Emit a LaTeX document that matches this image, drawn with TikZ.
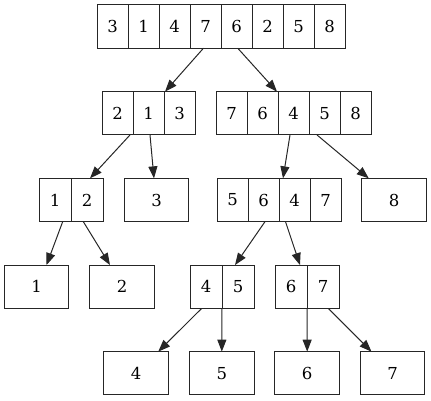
\documentclass[tikz,border=0pt]{standalone}
\usepackage{fontspec}
\setmainfont{DejaVu Serif}
\usetikzlibrary{arrows.meta}
\tikzset{
  cell/.style={draw=black!85, line width=1pt, outer sep=0pt, inner sep=0pt,
    minimum width=31pt, minimum height=43.3pt,
    font=\fontsize{16.5pt}{18pt}\selectfont},
  cellw/.style={cell, minimum width=32pt},
  leaf/.style={cell, minimum width=64.5pt},
  edge/.style={draw=black!85, line width=1pt, -{Triangle[length=12pt,width=9pt]}}
}
\begin{document}
\begin{tikzpicture}[x=1pt,y=-1pt]
\useasboundingbox (0,0) rectangle (431,400);
% row 1
\node[cell] (t1) at (112.5,26.5) {3};
\node[cell] (t2) at (143.5,26.5) {1};
\node[cell] (t3) at (174.5,26.5) {4};
\node[cell] (t4) at (205.5,26.5) {7};
\node[cell] (t5) at (236.5,26.5) {6};
\node[cell] (t6) at (267.5,26.5) {2};
\node[cell] (t7) at (298.5,26.5) {5};
\node[cell] (t8) at (329.5,26.5) {8};
% row 2
\node[cell] (a1) at (117.5,113.3) {2};
\node[cell] (a2) at (148.5,113.3) {1};
\node[cell] (a3) at (179.5,113.3) {3};
\node[cell] (b1) at (231.5,113.3) {7};
\node[cell] (b2) at (262.5,113.3) {6};
\node[cell] (b3) at (293.5,113.3) {4};
\node[cell] (b4) at (324.5,113.3) {5};
\node[cell] (b5) at (355.5,113.3) {8};
% row 3
\node[cellw] (c1) at (55,200) {1};
\node[cellw] (c2) at (87,200) {2};
\node[leaf] (d) at (156.5,200) {3};
\node[cell] (e1) at (232.5,200) {5};
\node[cell] (e2) at (263.5,200) {6};
\node[cell] (e3) at (294.5,200) {4};
\node[cell] (e4) at (325.5,200) {7};
\node[leaf] (f) at (394,200) {8};
% row 4
\node[leaf] (g) at (36.5,286.7) {1};
\node[leaf] (h) at (122,286.7) {2};
\node[cellw] (i1) at (206,286.7) {4};
\node[cellw] (i2) at (238,286.7) {5};
\node[cellw] (j1) at (291,286.7) {6};
\node[cellw] (j2) at (323,286.7) {7};
% row 5
\node[leaf] (k) at (136.2,373.3) {4};
\node[leaf] (l) at (221.8,373.3) {5};
\node[leaf] (m) at (307.2,373.3) {6};
\node[leaf] (n) at (392.5,373.3) {7};
% edges
\draw[edge] ([xshift=-2]t4.south) -- ([xshift=1]a2.north east);
\draw[edge] ([xshift=1.2]t5.south) -- ([xshift=-1]b3.north west);
\draw[edge] ([xshift=-3]a1.south east) -- ([xshift=3]c2.north);
\draw[edge] ([xshift=1.5]a2.south) -- ([xshift=-2.5]d.north);
\draw[edge] ([xshift=-3.5]b3.south) -- ([xshift=4]e3.north west);
\draw[edge] ([xshift=8]b4.south west) -- ([xshift=7]f.north west);
\draw[edge] ([xshift=7.7]c1.south) -- ([xshift=10]g.north);
\draw[edge] ([xshift=-3.7]c2.south) -- ([xshift=-12]h.north);
\draw[edge] ([xshift=1.5]e2.south) -- ([xshift=-3]i2.north);
\draw[edge] ([xshift=-9]e3.south) -- ([xshift=9]j1.north);
\draw[edge] ([xshift=-4.3]i1.south) -- ([xshift=22]k.north);
\draw[edge] (i1.south east) -- (l.north);
\draw[edge] (j1.south east) -- (m.north);
\draw[edge] ([xshift=5.3]j2.south) -- ([xshift=-21]n.north);
\end{tikzpicture}
\end{document}
